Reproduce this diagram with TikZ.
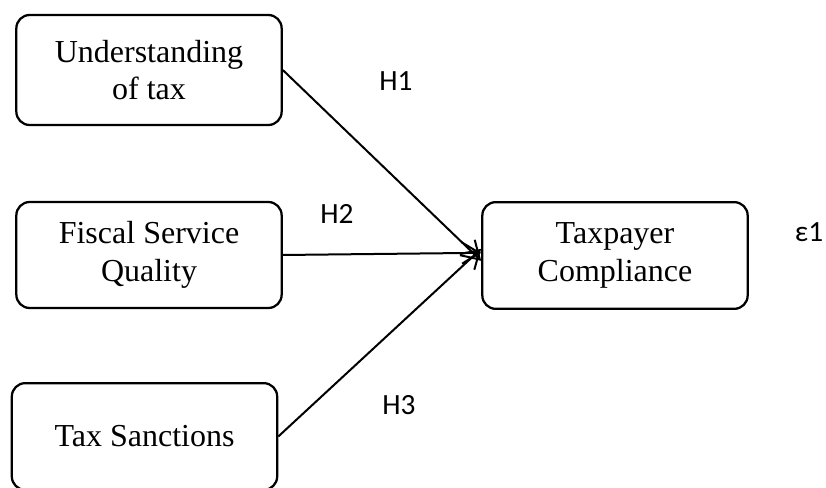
\documentclass[tikz,border=0pt]{standalone}
\usepackage{fontspec}
\setmainfont{Liberation Serif}
\newfontfamily\hlabelfont{Carlito}
\usetikzlibrary{arrows.meta}
\begin{document}
\begin{tikzpicture}[x=0.75pt,y=0.75pt,yscale=-1,
  construct/.style={draw, line width=1.7pt, rounded corners=10pt, align=center,
    minimum width=199pt, font=\fontsize{24}{28}\selectfont},
  link/.style={line width=1.5pt, -{Straight Barb[length=13pt,width=16pt]}},
  hyp/.style={anchor=base, font=\hlabelfont\fontsize{22}{26}\selectfont}]
\useasboundingbox (0,0) rectangle (826,488);
\node[construct, minimum height=82.5pt] (under) at (149,70) {Understanding\\of tax};
\node[construct, minimum height=79.5pt] (fiscal) at (149,255) {Fiscal Service\\Quality};
\node[construct, minimum height=80pt] (sanct) at (144.5,436.5) {Tax Sanctions};
\node[construct, minimum height=80pt] (comp) at (615,255.5) {Taxpayer\\Compliance};
\draw[link] (under.east) -- ([yshift=4pt]comp.west);
\draw[link] (fiscal.east) -- ([yshift=-2pt]comp.west);
\draw[link] (sanct.east) -- ([yshift=-5pt]comp.west);
\node[hyp] (h1) at (396,91) {H1};
\node[hyp] (h2) at (337,224) {H2};
\node[hyp] (h3) at (399,415) {H3};
\node[hyp] (eps) at (809,242) {ε1};
\end{tikzpicture}
\end{document}
